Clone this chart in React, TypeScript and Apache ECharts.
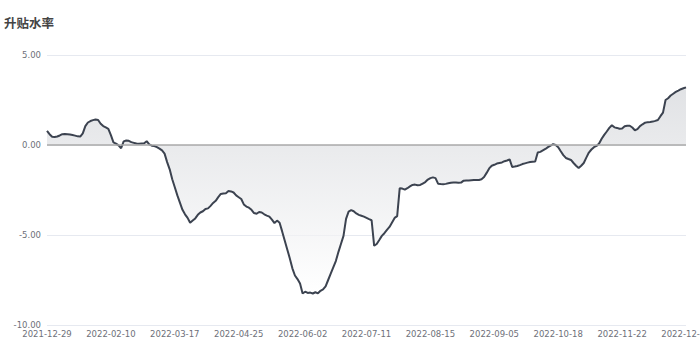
import React, { useEffect, useRef } from "react";
import * as echarts from "echarts";

const titleText = "升贴水率";

// trading days per month (source data has repeated rows in late August)
const monthDays: [string, number[]][] = [
  ["2021-12", [29, 30, 31]],
  ["2022-01", [4, 5, 6, 7, 10, 11, 12, 13, 14, 17, 18, 19, 20, 21, 24, 25, 26, 27, 28]],
  ["2022-02", [7, 8, 9, 10, 11, 14, 15, 16, 17, 18, 21, 22, 23, 24, 25, 28]],
  ["2022-03", [1, 2, 3, 4, 7, 8, 9, 10, 11, 14, 15, 16, 17, 18, 21, 22, 23, 24, 25, 28, 29, 30, 31]],
  ["2022-04", [1, 6, 7, 8, 11, 12, 13, 14, 15, 18, 19, 20, 21, 22, 25, 26, 27, 28, 29]],
  ["2022-05", [5, 6, 9, 10, 11, 12, 13, 16, 17, 18, 19, 20, 23, 24, 25, 26, 27, 30, 31]],
  ["2022-06", [1, 2, 7, 8, 9, 10, 13, 14, 15, 16, 17, 20, 21, 22, 23, 24, 27, 28, 29, 30]],
  ["2022-07", [1, 4, 5, 6, 7, 8, 11, 12, 13, 14, 15, 18, 19, 20, 21, 22, 25, 26, 27, 28, 29]],
  ["2022-08", [1, 2, 3, 4, 5, 8, 9, 10, 11, 12, 15, 16, 16, 17, 17, 18, 18, 19, 19, 22, 22, 23, 23, 24, 24, 25, 25, 26, 26, 29, 29, 30, 31]],
  ["2022-09", [1, 2, 5, 6, 7, 8, 9, 13, 14, 15, 16, 19, 20, 21, 22, 23, 26, 27, 28, 29, 30]],
  ["2022-10", [10, 11, 12, 13, 14, 17, 18, 19, 20, 21, 24, 25, 26, 27, 28, 31]],
  ["2022-11", [1, 2, 3, 4, 7, 8, 9, 10, 11, 14, 15, 16, 17, 18, 21, 22, 23, 24, 25, 28, 29, 30]],
  ["2022-12", [1, 2, 5, 6, 7, 8, 9, 12, 13, 14, 15, 16, 19, 20, 21, 22, 23, 26, 27]],
];

const dates: string[] = monthDays.flatMap(([m, ds]) =>
  ds.map((d) => `${m}-${String(d).padStart(2, "0")}`)
);

const basisRate: number[] = [
  0.79, 0.6, 0.46, 0.45, 0.47, 0.53, 0.6, 0.61, 0.6, 0.58,
  0.55, 0.52, 0.48, 0.47, 0.65, 1.05, 1.25, 1.33, 1.38, 1.42,
  1.39, 1.18, 1.05, 0.98, 0.9, 0.55, 0.15, 0.08, -0.02, -0.18,
  0.2, 0.25, 0.23, 0.16, 0.12, 0.08, 0.07, 0.09, 0.1, 0.21,
  0.03, -0.04, -0.06, -0.12, -0.2, -0.3, -0.48, -0.95, -1.35, -1.9,
  -2.35, -2.8, -3.2, -3.6, -3.85, -4.05, -4.32, -4.2, -4.08, -3.88,
  -3.75, -3.68, -3.55, -3.52, -3.38, -3.22, -3.1, -2.9, -2.72, -2.7,
  -2.68, -2.56, -2.58, -2.64, -2.8, -2.9, -3.0, -3.3, -3.42, -3.48,
  -3.6, -3.78, -3.82, -3.72, -3.75, -3.85, -3.92, -3.98, -4.15, -4.34,
  -4.2, -4.32, -4.8, -5.3, -5.8, -6.3, -6.85, -7.25, -7.45, -7.7,
  -8.25, -8.15, -8.22, -8.2, -8.25, -8.18, -8.24, -8.1, -8.02, -7.85,
  -7.5, -7.15, -6.8, -6.45, -5.95, -5.5, -5.05, -4.1, -3.7, -3.62,
  -3.68, -3.8, -3.88, -3.93, -3.98, -4.05, -4.12, -4.18, -5.6, -5.5,
  -5.28, -5.05, -4.9, -4.72, -4.55, -4.3, -4.05, -3.95, -2.4, -2.42,
  -2.48, -2.4, -2.3, -2.22, -2.2, -2.24, -2.22, -2.14, -2.06, -1.92,
  -1.84, -1.8, -1.84, -2.15, -2.17, -2.18, -2.16, -2.13, -2.1, -2.09,
  -2.09, -2.1, -2.09, -1.98, -1.97, -1.97, -1.96, -1.95, -1.95, -1.94,
  -1.9, -1.78, -1.55, -1.3, -1.15, -1.1, -1.03, -1.0, -0.97, -0.9,
  -0.86, -0.8, -1.22, -1.2, -1.17, -1.12, -1.06, -1.02, -0.98, -0.95,
  -0.93, -0.92, -0.42, -0.38, -0.3, -0.22, -0.12, -0.04, 0.05, 0.0,
  -0.12, -0.35, -0.56, -0.72, -0.78, -0.83, -1.0, -1.15, -1.28, -1.15,
  -1.0, -0.7, -0.42, -0.25, -0.12, -0.05, 0.08, 0.35, 0.56, 0.75,
  0.95, 1.1, 0.98, 0.95, 0.9, 0.92, 1.04, 1.07, 1.07, 0.97,
  0.82, 0.88, 1.05, 1.15, 1.24, 1.27, 1.28, 1.3, 1.34, 1.39,
  1.6, 1.8, 2.5, 2.6, 2.75, 2.85, 2.95, 3.02, 3.1, 3.15,
  3.2,
];

const yMin = -10;
const yMax = 5;
const yStep = 5;

export default function App() {
  const ref = useRef<HTMLDivElement>(null);
  useEffect(() => {
    if (!ref.current) return;
    const chart = echarts.init(ref.current, undefined, { renderer: "svg" });
    chart.setOption({
      animation: false,
      title: {
        text: titleText,
        left: 4,
        top: 16,
        padding: 0,
        textStyle: {
          fontSize: 12.5,
          fontWeight: "bold",
          color: "#444",
          fontFamily: "Noto Sans CJK SC",
        },
      },
      grid: {
        left: 47,
        right: 14,
        top: 55,
        bottom: 25,
        containLabel: false,
        outerBoundsMode: "none",
      },
      xAxis: {
        type: "category",
        data: dates,
        boundaryGap: false,
        axisLine: { show: false },
        axisTick: { show: false },
        axisLabel: {
          interval: 24,
          fontSize: 8.5,
          color: "#6e7079",
          margin: 4,
          fontFamily: "DejaVu Sans",
        },
        splitLine: { show: false },
      },
      yAxis: {
        type: "value",
        min: yMin,
        max: yMax,
        interval: yStep,
        axisLine: { show: false },
        axisTick: { show: false },
        axisLabel: {
          formatter: (v: number) => v.toFixed(2),
          fontSize: 8.5,
          color: "#6e7079",
          margin: 6,
          fontFamily: "DejaVu Sans",
        },
        splitLine: { lineStyle: { color: "#e6e9f0", width: 1 } },
      },
      series: [
        {
          type: "line",
          data: basisRate,
          symbol: "none",
          lineStyle: { color: "#3c4350", width: 2 },
          itemStyle: { color: "#3c4350" },
          areaStyle: {
            origin: 0,
            color: new echarts.graphic.LinearGradient(0, 0, 0, 1, [
              { offset: 0, color: "#d4d6da" },
              { offset: 1, color: "#ffffff" },
            ]),
          },
          markLine: {
            silent: true,
            symbol: "none",
            label: { show: false },
            lineStyle: { color: "#aaaaaa", type: "solid", width: 1.5 },
            data: [{ yAxis: 0 }],
          },
        },
      ],
    });
    return () => chart.dispose();
  }, []);
  return (
    <div
      ref={ref}
      style={{ position: "absolute", left: 0, top: 0, width: 700, height: 350 }}
    />
  );
}
